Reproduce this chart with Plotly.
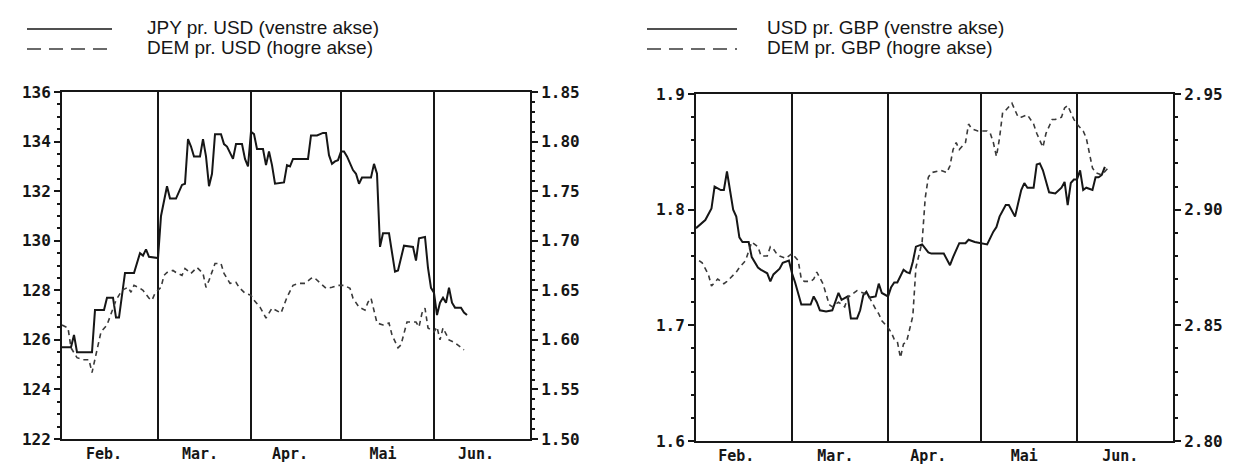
import plotly.graph_objects as go

# ---------------- data ----------------
YEAR = "1992"

jpy_usd_days = ["01-29", "01-30", "02-01", "02-02", "02-03", "02-08", "02-09", "02-12", "02-13", "02-15",
                "02-16", "02-17", "02-18", "02-19", "02-22", "02-24", "02-25", "02-26", "02-27", "02-29",
                "03-01", "03-02", "03-04", "03-05", "03-07", "03-09", "03-10", "03-11", "03-12", "03-13",
                "03-15", "03-16", "03-17", "03-18", "03-19", "03-20", "03-22", "03-23", "03-24", "03-26",
                "03-27", "03-29", "03-30", "03-31", "04-01", "04-02", "04-03", "04-05", "04-06", "04-07",
                "04-08", "04-09", "04-12", "04-13", "04-14", "04-15", "04-20", "04-21", "04-23", "04-25",
                "04-26", "04-27", "04-28", "04-29", "04-30", "05-01", "05-02", "05-03", "05-05", "05-06",
                "05-07", "05-08", "05-11", "05-12", "05-13", "05-14", "05-15", "05-17", "05-19", "05-20",
                "05-22", "05-25", "05-26", "05-27", "05-29", "05-30", "05-31", "06-01", "06-02", "06-03",
                "06-04", "06-05", "06-06", "06-07", "06-08", "06-10", "06-11", "06-12"]
jpy_usd = [125.7, 125.7, 125.7, 126.2, 125.5, 125.5, 127.2, 127.2, 127.7, 127.7,
           126.9, 126.9, 127.9, 128.7, 128.7, 129.5, 129.4, 129.65, 129.35, 129.3,
           129.3, 131.0, 132.2, 131.7, 131.7, 132.25, 132.3, 134.1, 133.8, 133.4,
           133.4, 134.1, 133.4, 132.2, 132.7, 134.3, 134.3, 133.9, 133.8, 133.3,
           133.9, 133.9, 133.3, 133.0, 134.4, 134.3, 133.7, 133.7, 133.05, 133.6,
           133.05, 132.3, 132.35, 133.05, 133.0, 133.3, 133.3, 134.25, 134.25, 134.35,
           134.35, 133.45, 133.1, 133.2, 133.25, 133.6, 133.6, 133.4, 132.85, 132.7,
           132.3, 132.55, 132.55, 133.1, 132.7, 129.75, 130.3, 130.3, 128.75, 128.8,
           129.8, 129.75, 129.2, 130.1, 130.15, 128.9, 128.1, 127.9, 127.0, 127.5,
           127.7, 127.5, 128.1, 127.5, 127.3, 127.3, 127.1, 127.0]

dem_usd_days = ["01-29", "01-31", "02-01", "02-03", "02-05", "02-07", "02-08", "02-09", "02-10", "02-11",
                "02-13", "02-14", "02-16", "02-18", "02-20", "02-21", "02-22", "02-24", "02-25", "02-27",
                "02-28", "02-29", "03-02", "03-03", "03-04", "03-06", "03-07", "03-09", "03-10", "03-12",
                "03-14", "03-16", "03-17", "03-18", "03-20", "03-22", "03-23", "03-25", "03-27", "03-28",
                "03-30", "04-01", "04-02", "04-04", "04-06", "04-07", "04-08", "04-11", "04-13", "04-15",
                "04-17", "04-19", "04-21", "04-22", "04-24", "04-26", "04-28", "04-30", "05-02", "05-04",
                "05-05", "05-07", "05-09", "05-10", "05-11", "05-12", "05-13", "05-15", "05-17", "05-18",
                "05-20", "05-21", "05-22", "05-23", "05-26", "05-27", "05-28", "05-29", "05-30", "06-01",
                "06-02", "06-03", "06-04", "06-06", "06-08", "06-11"]
dem_usd = [1.615, 1.612, 1.592, 1.582, 1.58, 1.58, 1.567, 1.58, 1.592, 1.608,
           1.615, 1.623, 1.64, 1.65, 1.653, 1.648, 1.655, 1.652, 1.65, 1.642,
           1.64, 1.647, 1.653, 1.665, 1.668, 1.67, 1.668, 1.665, 1.672, 1.667,
           1.673, 1.667, 1.653, 1.66, 1.677, 1.677, 1.667, 1.657, 1.658, 1.653,
           1.647, 1.645, 1.64, 1.633, 1.622, 1.627, 1.632, 1.627, 1.643, 1.655,
           1.657, 1.657, 1.662, 1.663, 1.657, 1.652, 1.653, 1.655, 1.655, 1.652,
           1.642, 1.633, 1.63, 1.638, 1.642, 1.63, 1.617, 1.615, 1.617, 1.605,
           1.592, 1.595, 1.608, 1.618, 1.618, 1.613, 1.627, 1.632, 1.612, 1.608,
           1.613, 1.6, 1.612, 1.6, 1.597, 1.59]

usd_gbp_days = ["01-30", "02-02", "02-04", "02-05", "02-07", "02-08", "02-09", "02-11", "02-12", "02-13",
                "02-14", "02-16", "02-17", "02-18", "02-19", "02-20", "02-22", "02-23", "02-24", "02-26",
                "02-27", "02-29", "03-01", "03-02", "03-04", "03-07", "03-08", "03-09", "03-10", "03-12",
                "03-14", "03-16", "03-17", "03-19", "03-20", "03-22", "03-23", "03-24", "03-25", "03-26",
                "03-28", "03-29", "03-30", "04-01", "04-02", "04-03", "04-04", "04-06", "04-07", "04-08",
                "04-09", "04-10", "04-12", "04-14", "04-15", "04-19", "04-21", "04-22", "04-24", "04-26",
                "04-27", "04-29", "05-01", "05-03", "05-05", "05-06", "05-07", "05-09", "05-10", "05-12",
                "05-14", "05-15", "05-16", "05-18", "05-19", "05-20", "05-21", "05-23", "05-25", "05-27",
                "05-28", "05-29", "05-30", "05-31", "06-01", "06-02", "06-03", "06-04", "06-06", "06-07",
                "06-08", "06-09", "06-10"]
usd_gbp = [1.784, 1.791, 1.801, 1.82, 1.817, 1.817, 1.833, 1.8, 1.794, 1.776,
           1.772, 1.772, 1.759, 1.754, 1.75, 1.748, 1.745, 1.738, 1.744, 1.749,
           1.754, 1.756, 1.745, 1.737, 1.718, 1.718, 1.725, 1.72, 1.713, 1.712,
           1.713, 1.728, 1.722, 1.725, 1.706, 1.706, 1.713, 1.726, 1.729, 1.724,
           1.725, 1.736, 1.728, 1.725, 1.733, 1.737, 1.737, 1.748, 1.746, 1.745,
           1.755, 1.768, 1.77, 1.763, 1.762, 1.762, 1.752, 1.759, 1.771, 1.771,
           1.774, 1.772, 1.771, 1.77, 1.781, 1.785, 1.794, 1.804, 1.804, 1.794,
           1.817, 1.823, 1.819, 1.819, 1.839, 1.84, 1.834, 1.815, 1.814, 1.819,
           1.824, 1.804, 1.823, 1.826, 1.826, 1.834, 1.817, 1.819, 1.817, 1.828,
           1.828, 1.83, 1.837]

dem_gbp_days = ["01-31", "02-01", "02-03", "02-04", "02-06", "02-08", "02-09", "02-12", "02-13", "02-15",
                "02-17", "02-19", "02-20", "02-22", "02-23", "02-24", "02-25", "02-26", "02-28", "03-01",
                "03-03", "03-04", "03-05", "03-07", "03-08", "03-09", "03-11", "03-12", "03-13", "03-14",
                "03-16", "03-18", "03-19", "03-21", "03-22", "03-24", "03-26", "03-28", "03-29", "03-30",
                "04-01", "04-02", "04-03", "04-04", "04-05", "04-06", "04-07", "04-09", "04-10", "04-12",
                "04-13", "04-14", "04-15", "04-18", "04-20", "04-21", "04-22", "04-23", "04-24", "04-26",
                "04-27", "04-28", "04-30", "05-03", "05-04", "05-05", "05-06", "05-07", "05-08", "05-09",
                "05-11", "05-13", "05-14", "05-16", "05-17", "05-18", "05-19", "05-21", "05-22", "05-24",
                "05-25", "05-27", "05-28", "05-29", "05-30", "05-31", "06-01", "06-03", "06-04", "06-05",
                "06-06", "06-07", "06-09", "06-11"]
dem_gbp = [2.878, 2.877, 2.872, 2.867, 2.87, 2.868, 2.869, 2.873, 2.875, 2.878,
           2.886, 2.884, 2.88, 2.88, 2.884, 2.883, 2.881, 2.88, 2.879, 2.881,
           2.878, 2.87, 2.869, 2.869, 2.87, 2.873, 2.868, 2.864, 2.859, 2.858,
           2.86, 2.858, 2.862, 2.864, 2.865, 2.864, 2.862, 2.857, 2.855, 2.852,
           2.849, 2.847, 2.844, 2.843, 2.836, 2.842, 2.843, 2.854, 2.875, 2.886,
           2.905, 2.914, 2.916, 2.917, 2.916, 2.919, 2.926, 2.929, 2.926, 2.929,
           2.937, 2.935, 2.934, 2.934, 2.933, 2.929, 2.923, 2.931, 2.942, 2.943,
           2.946, 2.94, 2.94, 2.941, 2.939, 2.937, 2.933, 2.927, 2.933, 2.939,
           2.939, 2.94, 2.944, 2.945, 2.942, 2.939, 2.937, 2.934, 2.931, 2.925,
           2.918, 2.916, 2.915, 2.918]

month_labels = ["Feb.", "Mar.", "Apr.", "Mai", "Jun."]
month_label_days = ["02-12", "03-15", "04-14", "05-15", "06-15"]
month_start_days = ["03-01", "04-01", "05-01", "06-01"]

legend_left = ["JPY pr. USD (venstre akse)", "DEM pr. USD (hogre akse)"]
legend_right = ["USD pr. GBP (venstre akse)", "DEM pr. GBP (hogre akse)"]


def dated(days):
    return [f"{YEAR}-{d}" for d in days]


# ---------------- styling ----------------
W, H = 1234, 466
INK = "#161616"
DASH_INK = "#3a3a3a"
TICK_FONT = dict(family="DejaVu Sans Mono", size=16, color=INK, weight="bold")
MONTH_FONT = dict(family="DejaVu Sans Mono", size=15, color=INK, weight="bold")
LEGEND_FONT = dict(family="Liberation Sans", size=19, color=INK)


def px_x(x):
    return x / W


def px_y(y):
    return 1 - y / H


fig = go.Figure()

fig.add_trace(go.Scatter(x=dated(jpy_usd_days), y=jpy_usd, mode="lines",
                         line=dict(color=INK, width=2), xaxis="x", yaxis="y"))
fig.add_trace(go.Scatter(x=dated(dem_usd_days), y=dem_usd, mode="lines",
                         line=dict(color=DASH_INK, width=1.6, dash="5px,4px"), xaxis="x", yaxis="y2"))
fig.add_trace(go.Scatter(x=dated(usd_gbp_days), y=usd_gbp, mode="lines",
                         line=dict(color=INK, width=2), xaxis="x2", yaxis="y3"))
fig.add_trace(go.Scatter(x=dated(dem_gbp_days), y=dem_gbp, mode="lines",
                         line=dict(color=DASH_INK, width=1.6, dash="5px,4px"), xaxis="x2", yaxis="y4"))


def x_axis(domain, anchor, rng):
    return dict(
        domain=domain, anchor=anchor, type="date", range=rng, automargin=False,
        tickmode="array", tickvals=dated(month_label_days), ticktext=month_labels,
        ticks="", showgrid=False, zeroline=False,
        showline=True, linecolor=INK, linewidth=2, mirror=True,
        tickfont=MONTH_FONT, ticklabelstandoff=0,
        minor=dict(tickmode="array", tickvals=dated(month_start_days), showgrid=True,
                   gridcolor=INK, gridwidth=1.6, ticks=""),
    )


def y_axis(domain, anchor, rng, dtick, minor_dtick, fmt, side="left", overlaying=None):
    ax = dict(
        domain=domain, anchor=anchor, range=rng, side=side, automargin=False,
        tickmode="linear", tick0=rng[0], dtick=dtick, tickformat=fmt,
        ticks="outside", ticklen=6, tickwidth=2, tickcolor=INK,
        minor=dict(tickmode="linear", tick0=rng[0], dtick=minor_dtick,
                   ticks="outside", ticklen=3, tickwidth=1.5, tickcolor=INK, showgrid=False),
        showgrid=False, zeroline=False,
        showline=True, linecolor=INK, linewidth=2,
        tickfont=TICK_FONT,
    )
    if overlaying:
        ax["overlaying"] = overlaying
    return ax


left_dom_x = [px_x(62), px_x(530)]
right_dom_x = [px_x(696), px_x(1173)]
left_dom_y = [px_y(439), px_y(92)]
right_dom_y = [px_y(441), px_y(94)]

fig.update_layout(
    width=W, height=H,
    margin=dict(l=0, r=0, t=0, b=0, autoexpand=False),
    paper_bgcolor="white", plot_bgcolor="white",
    showlegend=False,
    xaxis=x_axis(left_dom_x, "y", [f"{YEAR}-01-29", f"{YEAR}-07-03"]),
    yaxis=y_axis(left_dom_y, "x", [122, 136], 2, 0.5, "d"),
    yaxis2=y_axis(left_dom_y, "x", [1.50, 1.85], 0.05, 0.01, ".2f", side="right", overlaying="y"),
    xaxis2=x_axis(right_dom_x, "y3", [f"{YEAR}-01-30", f"{YEAR}-07-02"]),
    yaxis3=y_axis(right_dom_y, "x2", [1.6, 1.9], 0.1, 0.02, ".1f"),
    yaxis4=y_axis(right_dom_y, "x2", [2.80, 2.95], 0.05, 0.01, ".2f", side="right", overlaying="y3"),
)

# key lines and captions above each panel
shapes = []
annotations = []
for (x0, x1, tx, labels) in [(27, 112, 145, legend_left), (647, 737, 765, legend_right)]:
    for i, (label, dash) in enumerate(zip(labels, ["solid", "14px,8px"])):
        yl = 29 + 20 * i
        shapes.append(dict(type="line", xref="paper", yref="paper",
                           x0=px_x(x0), x1=px_x(x1), y0=px_y(yl), y1=px_y(yl),
                           line=dict(color=INK if i == 0 else DASH_INK, width=1.4, dash=dash)))
        annotations.append(dict(xref="paper", yref="paper", x=px_x(tx), y=px_y(yl - 1.5),
                                xanchor="left", yanchor="middle", showarrow=False,
                                text=label, font=LEGEND_FONT))
fig.update_layout(shapes=shapes, annotations=annotations)

fig.write_html("out.html")
